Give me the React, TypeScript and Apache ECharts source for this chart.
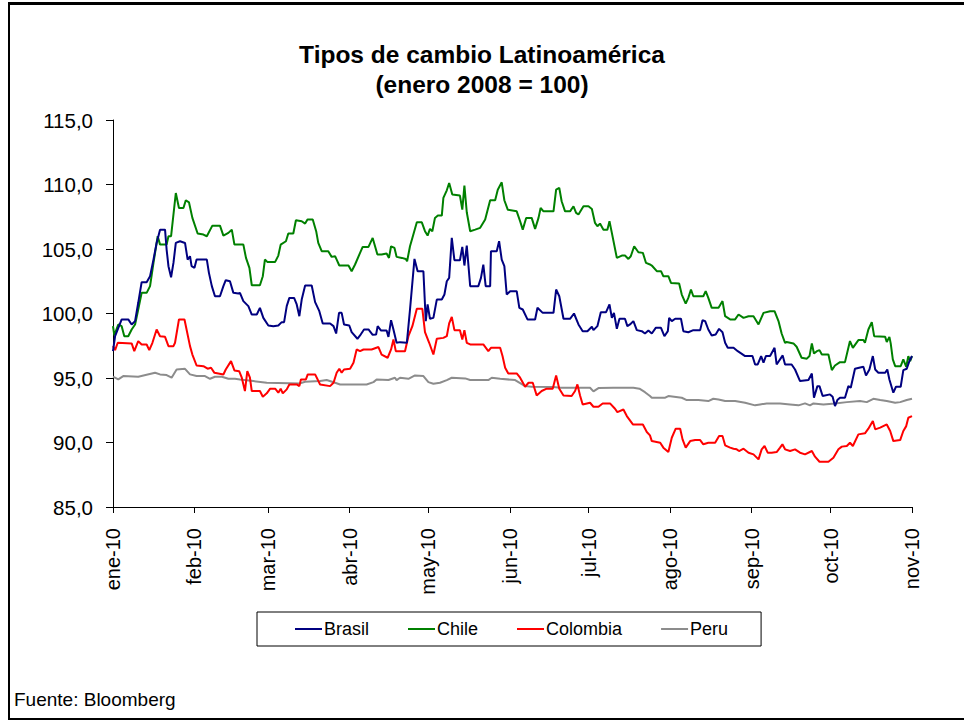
import React, { useEffect, useRef } from "react";
import * as echarts from "echarts";

const monthStarts = [0, 31, 59, 90, 120, 151, 181, 212, 243, 273, 304];
const monthLabels = ["ene-10", "feb-10", "mar-10", "abr-10", "may-10", "jun-10", "jul-10", "ago-10", "sep-10", "oct-10", "nov-10"];

// [day since 1 Jan 2010, index value]
const brasil: [number, number][] = [
  [0, 97.08], [0.8, 98.24], [3.3, 99.54], [5.8, 99.54], [7.1, 99.15], [8.4, 99.41], [9.6, 100.83], [10.9, 102.43], [12.8, 102.43], [14.1, 102.89], [15.4, 104.18], [16.6, 105.47], [17.9, 106.5], [19.8, 106.5], [20.4, 104.96], [21.1, 103.67], [22.1, 102.81], [23.0, 103.92], [23.9, 105.47], [25.5, 105.6], [27.4, 105.47], [28.4, 104.18], [29.3, 104.44], [29.9, 103.67], [31.0, 103.54], [31.8, 104.18], [35.7, 104.18], [36.5, 103.15], [37.6, 102.12], [38.8, 101.34], [40.7, 101.34], [42.0, 102.12], [42.9, 102.58], [44.5, 102.5], [45.8, 101.6], [47.7, 101.55], [48.3, 101.6], [49.6, 100.96], [51.5, 100.57], [52.8, 99.92], [54.7, 99.92], [55.9, 100.44], [57.2, 99.66], [59.1, 99.07], [61.0, 99.02], [62.9, 99.07], [64.2, 99.33], [65.1, 99.33], [66.1, 100.57], [67.1, 101.21], [68.9, 101.21], [69.9, 100.7], [70.9, 99.79], [71.8, 101.08], [73.1, 102.17], [75.6, 102.17], [76.9, 100.88], [78.5, 100.18], [79.8, 99.23], [82.6, 99.23], [83.9, 99.02], [84.9, 98.45], [86.0, 100.05], [87.0, 100.05], [87.9, 99.15], [89.9, 99.07], [90.8, 98.55], [93.0, 98.04], [94.0, 98.3], [95.5, 98.76], [97.2, 98.76], [98.8, 98.35], [100.1, 98.37], [100.7, 99.02], [102.0, 98.68], [104.1, 98.68], [104.8, 98.19], [105.8, 99.48], [106.7, 98.76], [107.9, 97.73], [109.2, 97.78], [111.8, 97.73], [113.0, 100.3], [114.7, 104.23], [115.9, 103.28], [118.1, 103.28], [119.0, 99.4], [119.7, 100.7], [120.6, 99.59], [121.9, 99.66], [123.2, 101.08], [125.1, 101.08], [126.1, 101.47], [127.0, 102.5], [127.9, 102.76], [128.9, 105.86], [129.9, 104.13], [132.0, 104.13], [132.9, 105.16], [133.7, 103.72], [134.6, 105.27], [135.9, 102.12], [139.0, 102.12], [140.0, 102.76], [140.9, 103.79], [141.8, 102.12], [143.5, 102.12], [143.8, 104.83], [146.0, 104.83], [146.9, 105.6], [147.9, 104.18], [148.9, 103.67], [149.8, 101.47], [151.1, 101.73], [153.6, 101.73], [154.6, 100.44], [155.9, 100.31], [157.7, 99.54], [160.6, 99.54], [161.5, 100.44], [163.5, 100.05], [167.6, 100.05], [168.6, 101.86], [169.8, 101.34], [171.4, 99.59], [173.9, 99.59], [175.4, 100.0], [177.1, 99.15], [178.7, 98.63], [180.5, 98.63], [182.2, 98.97], [182.8, 98.71], [184.3, 99.02], [185.6, 100.1], [187.6, 100.1], [188.9, 100.7], [189.8, 99.66], [190.6, 100.05], [191.7, 98.81], [192.7, 99.59], [194.8, 99.59], [195.7, 99.02], [196.7, 99.15], [198.0, 99.41], [199.3, 98.71], [201.2, 98.63], [202.4, 98.45], [203.7, 98.68], [205.0, 98.45], [206.5, 98.89], [208.5, 98.89], [209.8, 98.24], [211.1, 98.63], [211.6, 99.66], [212.6, 99.41], [213.9, 99.59], [216.1, 99.59], [217.0, 98.63], [218.9, 98.55], [220.8, 98.71], [223.4, 98.71], [224.3, 99.48], [225.3, 99.41], [226.5, 98.76], [227.8, 98.3], [229.3, 98.37], [230.6, 98.81], [231.9, 98.55], [232.9, 97.73], [233.9, 97.34], [236.1, 97.34], [237.7, 97.08], [240.5, 96.7], [243.3, 96.7], [244.3, 96.05], [245.3, 96.05], [246.6, 96.7], [247.5, 96.18], [248.4, 96.7], [250.0, 96.7], [251.7, 97.34], [252.5, 96.05], [254.8, 96.75], [255.7, 96.05], [258.2, 96.05], [259.5, 95.66], [261.4, 94.76], [264.6, 94.84], [265.9, 95.35], [266.7, 93.47], [268.0, 94.37], [268.8, 94.37], [270.0, 93.6], [272.8, 93.73], [273.8, 93.55], [274.7, 92.82], [275.6, 93.29], [276.6, 93.47], [278.5, 93.47], [279.8, 94.37], [280.7, 94.24], [282.3, 95.72], [285.5, 95.87], [286.5, 95.2], [287.8, 95.66], [289.1, 96.7], [290.0, 95.66], [291.2, 95.41], [293.8, 95.41], [294.6, 95.66], [295.4, 94.89], [296.9, 93.86], [297.9, 94.32], [299.7, 94.32], [300.7, 95.61], [302.0, 95.72], [303.0, 96.31], [304, 96.7],
];

const chile: [number, number][] = [
  [0, 99.02], [0.5, 98.3], [2.0, 99.15], [3.3, 99.02], [4.3, 98.24], [5.8, 98.24], [7.1, 98.76], [8.4, 99.15], [9.6, 100.31], [10.9, 101.6], [12.8, 101.6], [14.1, 102.12], [15.4, 103.92], [17.0, 105.99], [17.9, 105.34], [20.4, 105.34], [21.1, 105.99], [22.1, 105.99], [23.9, 109.34], [25.1, 108.18], [26.8, 108.18], [27.7, 108.78], [28.9, 108.62], [30.2, 107.41], [32.2, 106.2], [34.4, 106.12], [35.7, 105.99], [37.8, 106.81], [40.7, 106.81], [42.0, 106.04], [43.9, 106.25], [45.2, 106.5], [46.2, 105.34], [48.7, 105.34], [49.6, 105.34], [50.6, 104.31], [51.9, 103.54], [52.8, 102.19], [55.9, 102.19], [57.0, 102.89], [57.8, 104.18], [58.7, 104.0], [61.7, 104.0], [62.9, 104.49], [63.8, 105.34], [65.8, 105.6], [66.7, 106.2], [68.6, 106.2], [69.6, 107.23], [71.8, 107.15], [73.1, 106.97], [74.0, 107.28], [76.0, 107.28], [77.3, 106.38], [78.1, 105.47], [79.4, 104.83], [81.9, 104.83], [83.2, 104.39], [84.5, 104.44], [85.1, 104.18], [86.1, 103.72], [89.6, 103.72], [90.8, 103.28], [92.1, 103.8], [94.0, 104.7], [95.0, 105.16], [97.2, 105.16], [98.8, 105.86], [99.7, 105.21], [100.6, 104.57], [102.2, 104.57], [104.1, 104.65], [105.0, 104.31], [105.8, 105.21], [107.1, 105.08], [107.9, 104.39], [109.9, 104.31], [111.4, 104.23], [111.9, 104.05], [113.0, 105.21], [113.9, 105.86], [115.6, 107.07], [117.5, 107.07], [118.7, 106.38], [119.7, 106.04], [120.6, 106.56], [121.5, 106.38], [122.5, 107.41], [123.6, 107.59], [125.1, 107.59], [125.7, 108.96], [127.0, 109.55], [127.9, 110.12], [129.1, 109.22], [132.0, 109.14], [132.9, 108.05], [133.7, 109.91], [134.6, 107.85], [135.9, 106.38], [137.8, 106.5], [139.7, 106.64], [141.6, 107.28], [143.5, 108.78], [145.4, 108.78], [146.4, 109.6], [147.9, 110.17], [148.9, 108.78], [150.2, 108.05], [153.6, 107.92], [154.9, 107.15], [155.9, 106.5], [157.2, 107.41], [159.3, 107.41], [160.6, 106.56], [161.9, 107.41], [162.7, 108.18], [163.8, 107.92], [167.6, 107.92], [168.6, 109.6], [169.8, 109.73], [170.7, 108.7], [172.0, 107.92], [173.9, 107.92], [175.2, 108.31], [176.2, 107.8], [177.1, 107.67], [179.0, 108.31], [180.9, 108.31], [182.2, 108.1], [183.4, 107.02], [184.3, 106.76], [185.3, 106.97], [186.6, 106.5], [188.1, 106.5], [188.9, 107.15], [189.8, 106.25], [191.7, 104.31], [193.6, 104.49], [194.8, 104.49], [196.1, 104.23], [197.0, 104.44], [198.3, 105.21], [199.9, 104.75], [201.6, 104.7], [202.8, 103.92], [204.3, 103.8], [205.0, 103.72], [206.9, 103.28], [208.5, 103.28], [209.4, 102.89], [211.3, 102.89], [212.3, 102.37], [215.4, 102.32], [216.4, 101.47], [217.9, 100.77], [218.9, 101.21], [219.9, 101.86], [220.8, 101.34], [224.6, 101.34], [225.5, 101.73], [226.5, 101.21], [227.8, 100.44], [230.4, 100.44], [231.9, 100.96], [232.9, 99.79], [234.8, 99.54], [236.7, 99.54], [238.0, 99.92], [239.9, 99.66], [241.8, 99.79], [243.7, 99.79], [245.6, 99.15], [247.5, 100.05], [250.0, 100.18], [251.7, 100.18], [253.2, 99.41], [254.4, 98.45], [255.7, 97.73], [256.3, 97.79], [258.9, 97.68], [260.1, 97.42], [262.0, 96.57], [264.0, 96.5], [265.0, 96.7], [265.9, 97.68], [266.7, 96.9], [267.8, 97.08], [268.8, 97.16], [269.7, 96.82], [272.2, 96.82], [273.5, 95.61], [274.7, 95.97], [276.6, 96.23], [278.5, 96.23], [280.4, 97.86], [281.5, 97.34], [283.6, 97.94], [285.5, 97.94], [286.1, 97.73], [287.4, 98.76], [288.7, 99.33], [289.6, 98.24], [293.8, 98.19], [294.4, 97.79], [295.4, 98.19], [295.9, 97.68], [296.7, 96.44], [297.6, 95.92], [299.7, 95.92], [300.7, 96.44], [301.8, 95.87], [302.6, 96.7], [303.3, 96.31], [304, 96.7],
];

const colombia: [number, number][] = [
  [0, 97.47], [0.8, 97.16], [1.8, 97.73], [7.1, 97.68], [8.1, 97.08], [9.6, 97.86], [10.9, 97.6], [12.8, 97.6], [13.8, 97.16], [15.0, 97.73], [16.6, 98.76], [17.9, 98.24], [19.8, 98.19], [21.1, 97.47], [23.0, 97.47], [23.6, 97.73], [25.1, 99.54], [27.2, 99.54], [29.3, 97.47], [30.2, 96.82], [31.8, 95.97], [34.4, 95.92], [36.0, 95.72], [37.3, 95.79], [38.6, 95.4], [42.0, 95.27], [42.9, 95.66], [44.9, 96.31], [46.2, 95.59], [48.0, 95.53], [49.0, 95.02], [50.2, 93.99], [51.1, 95.53], [52.1, 95.02], [52.8, 93.99], [55.9, 93.99], [57.0, 93.55], [58.5, 93.81], [59.8, 94.17], [61.7, 94.17], [62.9, 93.86], [63.8, 94.17], [64.6, 93.81], [66.1, 94.12], [67.1, 94.5], [69.9, 94.5], [70.9, 94.37], [71.5, 94.89], [73.4, 94.89], [74.1, 95.28], [76.9, 95.28], [78.8, 94.5], [82.6, 94.37], [83.9, 94.63], [85.1, 95.41], [86.1, 95.72], [87.0, 95.41], [87.9, 95.66], [90.2, 95.72], [91.5, 96.18], [92.7, 97.21], [94.0, 97.08], [95.3, 97.21], [98.4, 97.21], [101.0, 97.4], [102.2, 96.82], [104.5, 96.57], [105.8, 97.21], [106.7, 97.99], [107.6, 97.08], [111.1, 97.08], [112.4, 98.24], [113.9, 99.02], [115.6, 100.36], [117.7, 100.36], [118.7, 98.55], [120.3, 97.73], [121.9, 96.82], [123.2, 98.04], [125.7, 98.11], [127.0, 98.24], [127.9, 99.23], [128.9, 99.74], [129.9, 98.71], [132.0, 98.71], [132.9, 97.99], [133.7, 98.71], [134.6, 97.73], [135.9, 97.6], [140.9, 97.6], [142.8, 97.08], [143.8, 97.34], [147.3, 97.34], [148.2, 96.7], [149.2, 95.8], [150.4, 95.35], [153.6, 95.35], [154.9, 95.02], [156.8, 94.32], [158.1, 94.63], [159.7, 94.63], [161.2, 93.65], [163.1, 93.99], [165.0, 94.17], [167.3, 94.17], [168.6, 95.2], [169.8, 94.17], [171.4, 93.65], [174.5, 93.6], [175.8, 93.99], [176.7, 94.5], [177.7, 93.65], [178.7, 92.95], [181.5, 93.08], [182.8, 92.77], [184.7, 92.77], [186.3, 93.03], [189.1, 93.03], [191.0, 92.62], [191.9, 92.36], [194.2, 92.56], [195.5, 92.05], [197.8, 91.4], [201.6, 91.4], [203.1, 90.81], [204.3, 90.55], [205.0, 90.11], [208.2, 89.98], [209.4, 89.6], [211.3, 89.26], [212.6, 90.37], [214.1, 91.07], [215.8, 91.07], [216.7, 90.24], [217.9, 89.6], [219.6, 90.11], [221.5, 90.19], [223.4, 90.19], [224.6, 89.86], [226.5, 89.98], [229.1, 89.98], [230.6, 90.5], [231.9, 90.5], [232.9, 89.78], [234.8, 89.6], [236.1, 89.52], [237.3, 89.47], [238.2, 89.34], [239.9, 89.52], [241.8, 89.21], [243.7, 89.08], [245.6, 88.69], [246.8, 89.47], [247.9, 89.73], [249.1, 89.21], [250.6, 89.21], [252.5, 89.26], [253.8, 89.6], [254.7, 89.86], [255.7, 89.47], [257.6, 89.34], [259.5, 89.47], [261.4, 89.21], [263.3, 89.08], [265.9, 89.34], [267.1, 88.9], [268.8, 88.51], [272.2, 88.51], [274.1, 88.82], [276.0, 89.47], [277.3, 89.68], [279.2, 89.73], [280.4, 89.98], [281.5, 89.73], [283.6, 90.63], [286.1, 90.71], [287.4, 91.07], [289.1, 91.66], [290.0, 91.02], [291.9, 91.15], [294.4, 91.4], [295.7, 90.89], [296.9, 90.11], [299.5, 90.19], [300.7, 90.89], [301.8, 91.27], [302.6, 91.92], [304, 92.05],
];

const peru: [number, number][] = [
  [0, 95.1], [2.0, 94.89], [3.9, 95.15], [9.6, 95.1], [16.0, 95.41], [17.9, 95.28], [20.4, 95.23], [22.3, 95.02], [24.2, 95.66], [27.4, 95.71], [29.3, 95.28], [31.8, 95.15], [35.0, 95.15], [36.9, 94.94], [38.8, 95.1], [41.4, 95.1], [43.9, 94.94], [46.4, 94.94], [48.3, 94.89], [53.4, 94.76], [58.5, 94.63], [71.2, 94.58], [73.1, 94.71], [78.8, 94.76], [81.3, 94.84], [84.5, 94.63], [86.4, 94.5], [96.5, 94.5], [99.1, 94.68], [100.3, 94.89], [104.8, 94.84], [107.3, 95.02], [107.9, 94.84], [109.2, 95.02], [112.4, 94.94], [114.9, 95.2], [118.1, 95.15], [120.0, 94.68], [121.9, 94.55], [124.4, 94.63], [127.0, 94.84], [128.9, 95.02], [134.0, 94.97], [135.9, 94.84], [142.8, 94.84], [144.1, 95.02], [147.3, 94.94], [153.0, 94.84], [156.8, 94.37], [159.3, 94.32], [167.6, 94.3], [170.1, 94.24], [181.5, 94.24], [182.8, 93.96], [184.7, 94.22], [190.4, 94.24], [198.0, 94.24], [200.3, 94.17], [202.4, 93.9], [204.3, 93.6], [205.0, 93.47], [210.1, 93.47], [211.3, 93.6], [216.4, 93.47], [218.3, 93.29], [222.7, 93.29], [226.5, 93.21], [228.4, 93.39], [230.4, 93.34], [232.9, 93.21], [236.7, 93.21], [240.5, 93.08], [244.3, 92.88], [246.2, 92.95], [248.7, 93.03], [251.9, 93.03], [253.8, 93.03], [257.6, 92.95], [260.8, 92.88], [263.3, 93.03], [265.2, 92.88], [266.5, 93.03], [270.3, 92.95], [274.7, 93.03], [279.2, 93.13], [284.2, 93.21], [286.8, 93.13], [289.3, 93.39], [291.9, 93.29], [294.4, 93.21], [297.6, 93.08], [299.5, 93.13], [302.0, 93.29], [304, 93.39],
];

const seriesNames = ["Brasil", "Chile", "Colombia", "Peru"];
const seriesColors = ["#000080", "#008000", "#FF0000", "#8C8C8C"];
const seriesData = [brasil, chile, colombia, peru];

const FONT = 'Arial, "Liberation Sans", sans-serif';

export default function App() {
  const ref = useRef<HTMLDivElement>(null);

  useEffect(() => {
    if (!ref.current) return;
    const chart = echarts.init(ref.current, undefined, { renderer: "svg" });
    chart.setOption({
      animation: false,
      backgroundColor: "#ffffff",
      textStyle: { fontFamily: FONT },
      title: {
        text: "Tipos de cambio Latinoamérica\n(enero 2008 = 100)",
        left: "center",
        top: 34,
        textStyle: { fontFamily: FONT, fontSize: 24.5, fontWeight: "bold", color: "#000", lineHeight: 30 },
      },
      grid: { left: 113, right: 52, top: 120, bottom: 214, containLabel: false },
      xAxis: {
        type: "value",
        min: 0,
        max: 304,
        axisLine: { show: true, lineStyle: { color: "#000", width: 1 } },
        axisTick: { show: true, customValues: monthStarts, length: 6, lineStyle: { color: "#000" } },
        axisLabel: {
          customValues: monthStarts,
          rotate: 90,
          margin: 21,
          fontSize: 20,
          fontFamily: FONT,
          color: "#000",
          formatter: (v: number) => monthLabels[monthStarts.indexOf(Math.round(v))] ?? "",
        },
        splitLine: { show: false },
      },
      yAxis: {
        type: "value",
        min: 85,
        max: 115,
        interval: 5,
        axisLine: { show: true, lineStyle: { color: "#000", width: 1 } },
        axisTick: { show: true, length: 7, lineStyle: { color: "#000" } },
        axisLabel: {
          margin: 20,
          fontSize: 20.5,
          fontFamily: FONT,
          color: "#000",
          formatter: (v: number) => v.toFixed(1).replace(".", ","),
        },
        splitLine: { show: false },
      },
      legend: {
        left: 257,
        top: 612,
        orient: "horizontal",
        icon: "rect",
        itemWidth: 27,
        itemHeight: 2,
        itemGap: 39,
        padding: [8, 33, 8, 38],
        borderColor: "#000",
        borderWidth: 1,
        borderRadius: 0,
        textStyle: { fontSize: 18, fontFamily: FONT, color: "#000", padding: [0, 0, 0, -3] },
        data: seriesNames,
      },
      graphic: [
        {
          type: "text",
          left: 14,
          top: 690,
          style: { text: "Fuente: Bloomberg", fontSize: 19, fontFamily: FONT, fill: "#000" },
        },
      ],
      series: seriesNames.map((name, i) => ({
        name,
        type: "line",
        data: seriesData[i],
        symbol: "none",
        showSymbol: false,
        color: seriesColors[i],
        lineStyle: { color: seriesColors[i], width: 2 },
        z: 10 - i,
      })),
    });
    return () => chart.dispose();
  }, []);

  return (
    <div style={{ position: "absolute", left: 0, top: 0, width: 964, height: 721, background: "#fff", overflow: "hidden" }}>
      <div ref={ref} style={{ position: "absolute", left: 0, top: 0, width: 964, height: 721 }} />
      <div
        style={{
          position: "absolute",
          left: 8,
          top: 2,
          width: 956,
          height: 718,
          borderTop: "3px solid #000",
          borderLeft: "2px solid #000",
          borderBottom: "2px solid #000",
          boxSizing: "border-box",
          pointerEvents: "none",
        }}
      />
    </div>
  );
}
